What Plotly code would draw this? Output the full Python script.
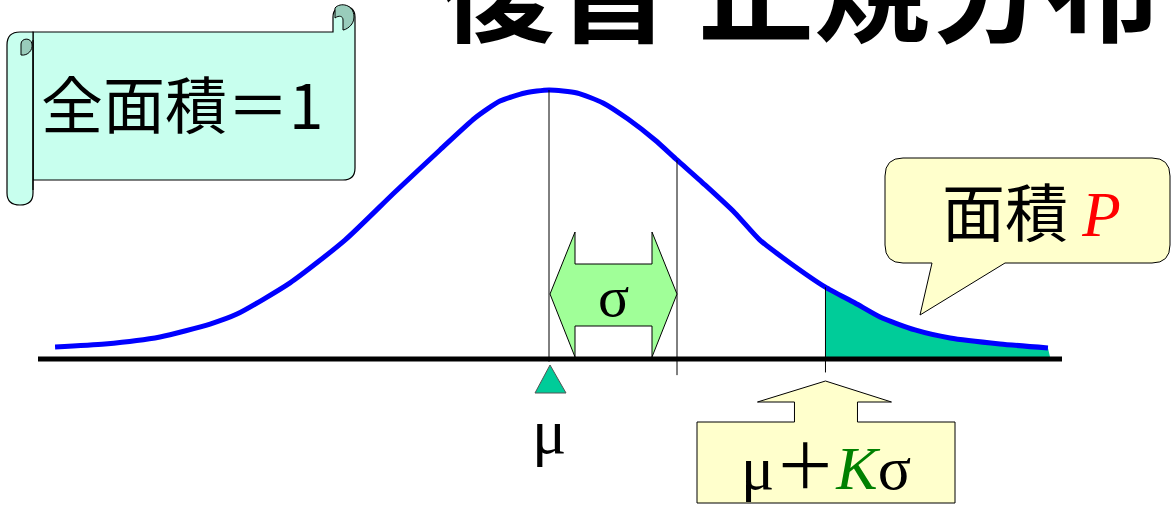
import numpy as np
import plotly.graph_objects as go

# ---- data (z in sigma units, h relative to peak) ----
curve_z = [-3.859, -3.469, -3.039, -2.648, -2.438, -2.023, -1.594, -1.203, -0.852,
           -0.578, -0.383, -0.188, 0.0, 0.219, 0.422, 0.617, 0.828, 1.0, 1.219,
           1.453, 1.648, 1.883, 2.156, 2.391, 2.586, 2.859, 3.133, 3.523, 3.898]
curve_h = [0.045, 0.056, 0.082, 0.130, 0.167, 0.283, 0.442, 0.621, 0.777,
           0.896, 0.959, 0.989, 1.0, 0.989, 0.952, 0.892, 0.814, 0.740, 0.647,
           0.543, 0.442, 0.357, 0.268, 0.208, 0.156, 0.108, 0.078, 0.056, 0.041]
mu = 0.0
sigma = 1.0
K = 2.16

title_words = ["復習", "正規分布"]
scroll_text = "全面積＝1"
area_label = "面積"
area_symbol = "P"
mu_label = "μ"
sigma_label = "σ"
k_label = "K"

# ---- canvas geometry ----
W, H = 1172, 511
X0, SX = 549.0, 128.0   # pixel of mu, pixels per sigma
Y0, SY = 359.0, 269.0   # pixel of baseline, pixels per unit height


def px(z):
    return X0 + SX * z


def py(h):
    return Y0 - SY * h


CJK = "Noto Sans CJK JP"
SERIF = "Liberation Serif"
TEAL = "#00CC99"
BLUE = "#0000FF"

fig = go.Figure()

# tail area P
hK = float(np.interp(K, curve_z, curve_h))
tail_z = [z for z in curve_z if z > K]
tail_h = [h for z, h in zip(curve_z, curve_h) if z > K]
fz = [K, K] + tail_z + [tail_z[-1] + 0.02, K]
fh = [0.0, hK] + tail_h + [0.0, 0.0]
fig.add_trace(go.Scatter(x=fz, y=fh, mode="lines", fill="toself", fillcolor=TEAL,
                         line=dict(width=0), hoverinfo="skip", showlegend=False))
# density curve
fig.add_trace(go.Scatter(x=curve_z, y=curve_h, mode="lines",
                         line=dict(color=BLUE, width=5, shape="spline", smoothing=0.6),
                         hoverinfo="skip", showlegend=False))

shapes = []
# baseline
shapes.append(dict(type="line", xref="x", yref="y", x0=(38 - X0) / SX, x1=(1062 - X0) / SX,
                   y0=0, y1=0, line=dict(color="black", width=5)))
# vertical guides
hmu = float(np.interp(mu, curve_z, curve_h))
hs = float(np.interp(mu + sigma, curve_z, curve_h))
shapes.append(dict(type="line", xref="x", yref="y", x0=mu, x1=mu, y0=hmu, y1=-0.01,
                   line=dict(color="black", width=1)))
shapes.append(dict(type="line", xref="x", yref="y", x0=mu + sigma, x1=mu + sigma, y0=hs,
                   y1=-0.06, line=dict(color="black", width=1)))
shapes.append(dict(type="line", xref="x", yref="y", x0=mu + K * sigma, x1=mu + K * sigma,
                   y0=hK, y1=-0.05, line=dict(color="black", width=1)))

# sigma double arrow (pixel coords on x2/y2)
a, b = px(mu) + 1, px(mu + sigma)
n1, n2 = a + 25, b - 25
arrow = (f"M {a},294 L {n1},232 L {n1},264 L {n2},264 L {n2},232 L {b},294 "
         f"L {n2},357 L {n2},326 L {n1},326 L {n1},357 Z")
shapes.append(dict(type="path", xref="x2", yref="y2", path=arrow, fillcolor="#A0FF98",
                   line=dict(color="black", width=1)))
# mu triangle
m = px(mu) + 1
shapes.append(dict(type="path", xref="x2", yref="y2",
                   path=f"M {m},365 L {m - 15},393 L {m + 16},393 Z",
                   fillcolor=TEAL, line=dict(color="#555555", width=1)))
# mu+K sigma up-arrow box
k = px(mu + K * sigma)
box = (f"M 697,422 L {k - 31},422 L {k - 31},402 L {k - 68},402 L {k},381 L {k + 66},402 "
       f"L {k + 32},402 L {k + 32},422 L 955,422 L 955,503 L 697,503 Z")
shapes.append(dict(type="path", xref="x2", yref="y2", path=box, fillcolor="#FFFFCC",
                   line=dict(color="black", width=1)))
# speech callout for area P
callout = ("M 903,158 L 1152,158 Q 1170,158 1170,176 L 1170,245 Q 1170,263 1152,263 "
           "L 1005,263 L 920,315 L 932,263 L 903,263 Q 885,263 885,245 L 885,176 "
           "Q 885,158 903,158 Z")
shapes.append(dict(type="path", xref="x2", yref="y2", path=callout, fillcolor="#FFFFCC",
                   line=dict(color="black", width=1)))
# scroll
SC = "#C8FFEE"
SCD = "#99CCBB"
panel = ("M 33,32 L 333,32 L 333,17 C 333,2 355,2 355,17 L 355,168 Q 355,180 343,180 "
         "L 33,180 Z")
shapes.append(dict(type="path", xref="x2", yref="y2", path=panel, fillcolor=SC,
                   line=dict(color="black", width=1.2)))
shapes.append(dict(type="path", xref="x2", yref="y2",
                   path="M 335,8 C 340,2 354,4 354,17 C 354,26 345,30 343,30 L 343,20 C 343,16 339,15 335,18 Z",
                   fillcolor=SCD, line=dict(color="black", width=1)))
roll = ("M 20,32 L 33,32 L 33,193 Q 33,205 20,205 Q 7,205 7,193 L 7,45 Q 7,32 20,32 Z")
shapes.append(dict(type="path", xref="x2", yref="y2", path=roll, fillcolor=SC,
                   line=dict(color="black", width=1.2)))
shapes.append(dict(type="path", xref="x2", yref="y2",
                   path="M 21,55 L 21,44 C 21,38 31,37 32,44 C 33,50 28,56 21,55 Z",
                   fillcolor=SCD, line=dict(color="black", width=1)))
shapes.append(dict(type="line", xref="x2", yref="y2", x0=33, x1=33, y0=40, y1=190,
                   line=dict(color="black", width=1.2)))

ann = []
title_font = dict(family=CJK, size=116, color="black", weight="bold")
for word, left in zip(title_words, [437, 696]):
    ann.append(dict(x=left / W, y=1 + 18 / H, xref="paper", yref="paper", text=word,
                    showarrow=False, xanchor="left", yanchor="middle", font=title_font))
ann.append(dict(x=182, y=102, xref="x2", yref="y2", text=scroll_text, showarrow=False,
                xanchor="center", yanchor="middle",
                font=dict(family=CJK, size=62, color="black")))
ann.append(dict(x=1031, y=208, xref="x2", yref="y2",
                text=f"{area_label} <span style='font-family:{SERIF};color:#FF0000'><i>{area_symbol}</i></span>",
                showarrow=False, xanchor="center", yanchor="middle",
                font=dict(family=CJK, size=63, color="black")))
ann.append(dict(x=(px(mu) + px(mu + sigma)) / 2, y=296, xref="x2", yref="y2", text=sigma_label,
                showarrow=False, xanchor="center", yanchor="middle",
                font=dict(family=SERIF, size=58, color="black")))
ann.append(dict(x=px(mu), y=431, xref="x2", yref="y2", text=mu_label,
                showarrow=False, xanchor="center", yanchor="middle",
                font=dict(family=SERIF, size=64, color="black")))
ann.append(dict(x=826, y=462, xref="x2", yref="y2",
                text=(f"{mu_label}<span style='font-family:{CJK}'>＋</span>"
                      f"<span style='color:#008000'><i>{k_label}</i></span>{sigma_label}"),
                showarrow=False, xanchor="center", yanchor="middle",
                font=dict(family=SERIF, size=62, color="black")))

fig.update_layout(
    width=W, height=H, margin=dict(l=0, r=0, t=0, b=0),
    paper_bgcolor="white", plot_bgcolor="white", showlegend=False,
    xaxis=dict(range=[(0 - X0) / SX, (W - X0) / SX], visible=False, fixedrange=True),
    yaxis=dict(range=[(Y0 - H) / SY, Y0 / SY], visible=False, fixedrange=True),
    xaxis2=dict(range=[0, W], overlaying="x", visible=False, fixedrange=True),
    yaxis2=dict(range=[H, 0], overlaying="y", visible=False, fixedrange=True),
    shapes=shapes, annotations=ann,
)

fig.write_html("out.html", config={"displayModeBar": False},
               post_script="document.body.style.margin='0';document.body.style.overflow='hidden';")
